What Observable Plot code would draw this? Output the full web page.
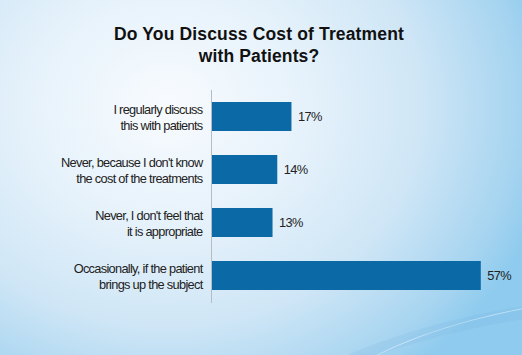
<!DOCTYPE html>
<html>
<head>
<meta charset="utf-8">
<script src="https://cdn.jsdelivr.net/npm/d3@7"></script>
<script src="https://cdn.jsdelivr.net/npm/@observablehq/plot@0.6"></script>
<style>
  html, body { margin: 0; padding: 0; }
  body {
    width: 522px; height: 355px; overflow: hidden; position: relative;
    font-family: "Liberation Sans", Arial, sans-serif;
    background: radial-gradient(ellipse 75% 95% at 32% 30%, #f8fbfe 0%, #e6f2fb 35%, #cfe6f6 65%, #a6d4f0 90%, #8ecbee 100%);
  }
  #title {
    position: absolute; left: 0; top: 23px; width: 518px;
    text-align: center; font-weight: bold; font-size: 17.5px; letter-spacing: 0.15px; line-height: 22px; color: #111;
  }
  #chart { position: absolute; left: 0; top: 80px; }
  .swoosh { position: absolute; border-radius: 50%; pointer-events: none; }
  .lbl text { letter-spacing: -0.7px; }
  .val text { letter-spacing: -0.6px; }
</style>
</head>
<body>
<div class="swoosh" style="left:210px; top:302px; width:700px; height:260px; border-top:13px solid rgba(120,175,220,0.18); transform: rotate(-8deg);"></div>
<div class="swoosh" style="left:290px; top:298px; width:620px; height:240px; border-top:1px solid rgba(240,250,255,0.5); transform: rotate(-6deg);"></div>
<div id="title">Do You Discuss Cost of Treatment<br>with Patients?</div>
<div id="chart"></div>
<script>
const categories = [
  "I regularly discuss\nthis with patients",
  "Never, because I don't know\nthe cost of the treatments",
  "Never, I don't feel that\nit is appropriate",
  "Occasionally, if the patient\nbrings up the subject"
];
const values = [17, 14, 13, 57];

const data = categories.map((c, i) => ({label: c, value: values[i]}));

const plot = Plot.plot({
  width: 522,
  height: 275,
  marginTop: 10,
  marginBottom: 52,
  marginLeft: 211,
  marginRight: 27,
  style: {background: "transparent", fontFamily: "Liberation Sans, Arial, sans-serif"},
  x: {domain: [0, 60], axis: null},
  y: {domain: categories, axis: null, paddingInner: 0.445, paddingOuter: 0.23},
  marks: [
    Plot.barX(data, {y: "label", x: "value", fill: "#0b6aa6"}),
    Plot.ruleX([0], {stroke: "#b4bcc4", strokeWidth: 1}),
    Plot.text(data, {y: "label", x: 0, text: "label", textAnchor: "end", dx: -9, fontSize: 12.8, lineHeight: 1.22, fill: "#222", className: "lbl"}),
    Plot.text(data, {y: "label", x: "value", text: d => `${d.value}%`, textAnchor: "start", dx: 6, fontSize: 12.8, fill: "#222", className: "val"})
  ]
});
document.getElementById("chart").appendChild(plot);
</script>
</body>
</html>
